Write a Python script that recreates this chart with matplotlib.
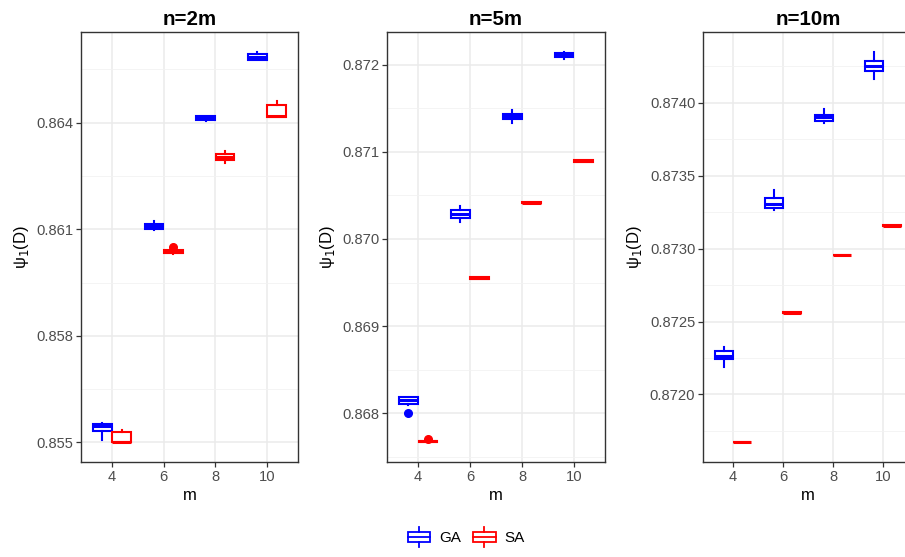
import numpy as np
import matplotlib
matplotlib.use('Agg')
import matplotlib.pyplot as plt
from matplotlib.patches import Rectangle
from matplotlib.lines import Line2D
from matplotlib.legend_handler import HandlerBase
from matplotlib.ticker import MultipleLocator, FormatStrFormatter

plt.rcParams['font.family'] = ['Liberation Sans', 'DejaVu Sans']

m_vals = ['4', '6', '8', '10']
panels = ['n=2m', 'n=5m', 'n=10m']

# box statistics: q1, median, q3, lower / upper whisker
ga_q1 = [[0.85533, 0.86101, 0.86406, 0.86577],
         [0.868110, 0.870238, 0.871378, 0.872092],
         [0.872242, 0.873281, 0.873873, 0.874219]]
ga_med = [[0.85545, 0.86108, 0.86412, 0.86585],
          [0.868147, 0.870284, 0.871408, 0.872114],
          [0.872263, 0.873304, 0.873900, 0.874256]]
ga_q3 = [[0.85552, 0.86115, 0.86418, 0.86592],
         [0.868182, 0.870333, 0.871439, 0.872137],
         [0.872295, 0.873347, 0.873918, 0.874288]]
ga_lo = [[0.85508, 0.86098, 0.86404, 0.86575],
         [0.868090, 0.870192, 0.871336, 0.872069],
         [0.872188, 0.873265, 0.873861, 0.874162]]
ga_hi = [[0.85554, 0.86124, 0.86420, 0.86600],
         [0.868190, 0.870379, 0.871477, 0.872151],
         [0.872329, 0.873402, 0.873957, 0.874352]]
ga_out = [[[], [], [], []],
          [[0.868002], [], [], []],
          [[], [], [], []]]

sa_q1 = [[0.85501, 0.86034, 0.86294, 0.86416],
         [0.867666, 0.869542, 0.870409, 0.870886],
         [0.871671, 0.872559, 0.872954, 0.873155]]
sa_med = [[0.85502, 0.86037, 0.86303, 0.86420],
          [0.867675, 0.869551, 0.870417, 0.870894],
          [0.871674, 0.872562, 0.872957, 0.873158]]
sa_q3 = [[0.85530, 0.86042, 0.86313, 0.86450],
         [0.867684, 0.869559, 0.870425, 0.870902],
         [0.871677, 0.872565, 0.872960, 0.873161]]
sa_lo = [[0.85500, 0.86029, 0.86286, 0.86416],
         [0.867664, 0.869540, 0.870408, 0.870885],
         [0.871671, 0.872559, 0.872954, 0.873155]]
sa_hi = [[0.85534, 0.86042, 0.86320, 0.86462],
         [0.867686, 0.869560, 0.870426, 0.870903],
         [0.871677, 0.872565, 0.872960, 0.873161]]
sa_out = [[[], [0.86050], [], []],
          [[0.867705], [], [], []],
          [[], [], [], []]]

methods = ['GA', 'SA']
colors = {'GA': '#0000FF', 'SA': '#FF0000'}

# y tick spacing per panel
major_step = [0.003, 0.001, 0.0005]
fmt = ['%.3f', '%.3f', '%.4f']

# axes boxes in pixels (left, right)
px = [(81, 298), (387, 605), (703, 913)]
W, H = 905, 557
top, bottom = 32, 462


def make_stats(q1, med, q3, lo, hi, out):
    return [dict(q1=q1[i], med=med[i], q3=q3[i], whislo=lo[i], whishi=hi[i],
                 fliers=out[i]) for i in range(len(q1))]


fig = plt.figure(figsize=(W / 100, H / 100), dpi=100)
grey = '#4D4D4D'

for p in range(3):
    l, r = px[p]
    ax = fig.add_axes([l / W, 1 - bottom / H, (r - l) / W, (bottom - top) / H])
    pos = np.arange(len(m_vals))
    for k, meth in enumerate(methods):
        if meth == 'GA':
            st = make_stats(ga_q1[p], ga_med[p], ga_q3[p], ga_lo[p], ga_hi[p], ga_out[p])
        else:
            st = make_stats(sa_q1[p], sa_med[p], sa_q3[p], sa_lo[p], sa_hi[p], sa_out[p])
        c = colors[meth]
        off = -0.1875 if k == 0 else 0.1875
        ax.bxp(st, positions=pos + off, widths=0.36, showcaps=False,
               patch_artist=True,
               boxprops=dict(facecolor='white', edgecolor=c, linewidth=1.5),
               medianprops=dict(color=c, linewidth=2.2),
               whiskerprops=dict(color=c, linewidth=1.5),
               flierprops=dict(marker='o', markerfacecolor=c, markeredgecolor=c,
                               markersize=5.5),
               manage_ticks=False, zorder=3)

    allv = ga_lo[p] + ga_hi[p] + sa_lo[p] + sa_hi[p] + sum(ga_out[p], []) + sum(sa_out[p], [])
    lo_v, hi_v = min(allv), max(allv)
    pad = 0.05 * (hi_v - lo_v)
    ax.set_ylim(lo_v - pad, hi_v + pad)
    ax.set_xlim(-0.6, len(m_vals) - 0.4)
    ax.set_xticks(pos)
    ax.set_xticklabels(m_vals)
    ax.yaxis.set_major_locator(MultipleLocator(major_step[p]))
    ax.yaxis.set_minor_locator(MultipleLocator(major_step[p] / 2))
    ax.yaxis.set_major_formatter(FormatStrFormatter(fmt[p]))

    ax.grid(True, which='major', color='#EBEBEB', linewidth=1.1, zorder=0)
    ax.grid(True, which='minor', axis='y', color='#F2F2F2', linewidth=0.6, zorder=0)
    ax.set_axisbelow(True)
    ax.tick_params(which='major', length=3.5, width=0.9, color='#333333',
                   labelcolor=grey, labelsize=10.6, pad=2)
    ax.tick_params(which='minor', length=0)
    for s in ax.spines.values():
        s.set_color('#333333')
        s.set_linewidth(1.0)

    ax.set_title(panels[p], fontsize=14.8, fontweight='bold', pad=5)
    ax.set_xlabel('m', fontsize=12, labelpad=3)
    ax.set_ylabel('ψ$_1$(D)', fontsize=12, labelpad=4)


class BoxHandler(HandlerBase):
    def create_artists(self, legend, orig_handle, xdescent, ydescent,
                       width, height, fontsize, trans):
        c = orig_handle.get_edgecolor()
        x0, x1 = -xdescent, -xdescent + width
        y0, y1 = -ydescent, -ydescent + height
        cx = (x0 + x1) / 2
        bh = height * 0.55
        by = y0 + (height - bh) / 2
        rect = Rectangle((x0, by), width, bh, facecolor='white', edgecolor=c,
                         linewidth=1.3, transform=trans)
        med = Line2D([x0, x1], [by + bh / 2] * 2, color=c, linewidth=1.3, transform=trans)
        w1 = Line2D([cx, cx], [y0, by], color=c, linewidth=1.3, transform=trans)
        w2 = Line2D([cx, cx], [by + bh, y1], color=c, linewidth=1.3, transform=trans)
        return [rect, med, w1, w2]


handles = [Rectangle((0, 0), 1, 1, facecolor='white', edgecolor=colors[m]) for m in methods]
fig.legend(handles, methods, handler_map={Rectangle: BoxHandler()},
           loc='center', bbox_to_anchor=(0.515, 0.036), ncol=2, frameon=False,
           fontsize=11, handlelength=1.5, handleheight=1.6, columnspacing=0.8,
           handletextpad=0.55)

fig.savefig('out.png', dpi=100)
